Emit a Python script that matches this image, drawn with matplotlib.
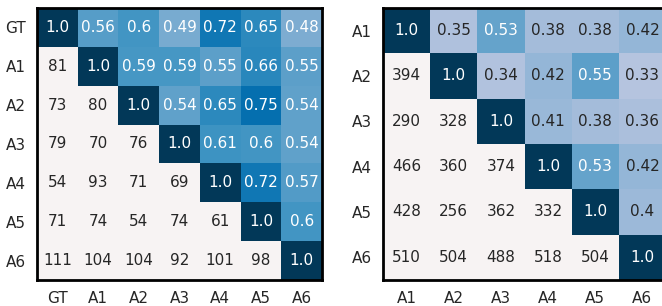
import numpy as np
import matplotlib
matplotlib.use("Agg")
import matplotlib.pyplot as plt

plt.rcParams["font.family"] = ["DejaVu Sans"]

left_labels = ["GT", "A1", "A2", "A3", "A4", "A5", "A6"]
left_upper = [
    [0.56, 0.6, 0.49, 0.72, 0.65, 0.48],
    [0.59, 0.59, 0.55, 0.66, 0.55],
    [0.54, 0.65, 0.75, 0.54],
    [0.61, 0.6, 0.54],
    [0.72, 0.57],
    [0.6],
]
left_lower = [
    [81],
    [73, 80],
    [79, 70, 76],
    [54, 93, 71, 69],
    [71, 74, 54, 74, 61],
    [111, 104, 104, 92, 101, 98],
]

right_labels = ["A1", "A2", "A3", "A4", "A5", "A6"]
right_upper = [
    [0.35, 0.53, 0.38, 0.38, 0.42],
    [0.34, 0.42, 0.55, 0.33],
    [0.41, 0.38, 0.36],
    [0.53, 0.42],
    [0.4],
]
right_lower = [
    [394],
    [290, 328],
    [466, 360, 374],
    [428, 256, 362, 332],
    [510, 504, 488, 518, 504],
]

cmap = plt.get_cmap("PuBu").with_extremes(bad="#f7f3f3")
W, H = 662, 306
fig = plt.figure(figsize=(W / 100, H / 100), dpi=100)


def lum(c):
    r, g, b = [x / 12.92 if x <= 0.03928 else ((x + 0.055) / 1.055) ** 2.4 for x in c[:3]]
    return 0.2126 * r + 0.7152 * g + 0.0722 * b


def draw(ax, labels, upper, lower):
    n = len(labels)
    vals = np.full((n, n), np.nan)
    texts = [["" for _ in range(n)] for _ in range(n)]
    for i in range(n):
        vals[i, i] = 1.0
        texts[i][i] = "1.0"
    for i, row in enumerate(upper):
        for k, v in enumerate(row):
            j = i + 1 + k
            vals[i, j] = v
            texts[i][j] = f"{v:g}"
    for r, row in enumerate(lower):
        i = r + 1
        for j, v in enumerate(row):
            texts[i][j] = str(v)
    m = np.ma.masked_invalid(vals)
    ax.pcolormesh(np.arange(n + 1), np.arange(n + 1), m, cmap=cmap, vmin=0, vmax=1)
    ax.set_xlim(0, n)
    ax.set_ylim(n, 0)
    for i in range(n):
        for j in range(n):
            if np.isnan(vals[i, j]):
                tc = "#262626"
            else:
                tc = "white" if lum(cmap(vals[i, j])) < 0.408 else "#262626"
            ax.text(j + 0.5, i + 0.5, texts[i][j], ha="center", va="center",
                    fontsize=11, color=tc)
    ax.set_xticks(np.arange(n) + 0.5)
    ax.set_yticks(np.arange(n) + 0.5)
    ax.set_xticklabels(labels, fontsize=11, color="#262626")
    ax.set_yticklabels(labels, fontsize=11, color="#262626")
    ax.tick_params(length=0, pad=8)
    for s in ax.spines.values():
        s.set_linewidth(2)
        s.set_color("black")


ax1 = fig.add_axes([37 / W, 1 - 280 / H, 285 / W, 272 / H])
draw(ax1, left_labels, left_upper, left_lower)
ax2 = fig.add_axes([383 / W, 1 - 280 / H, 283 / W, 272 / H])
draw(ax2, right_labels, right_upper, right_lower)

fig.savefig("out.png", dpi=100)
